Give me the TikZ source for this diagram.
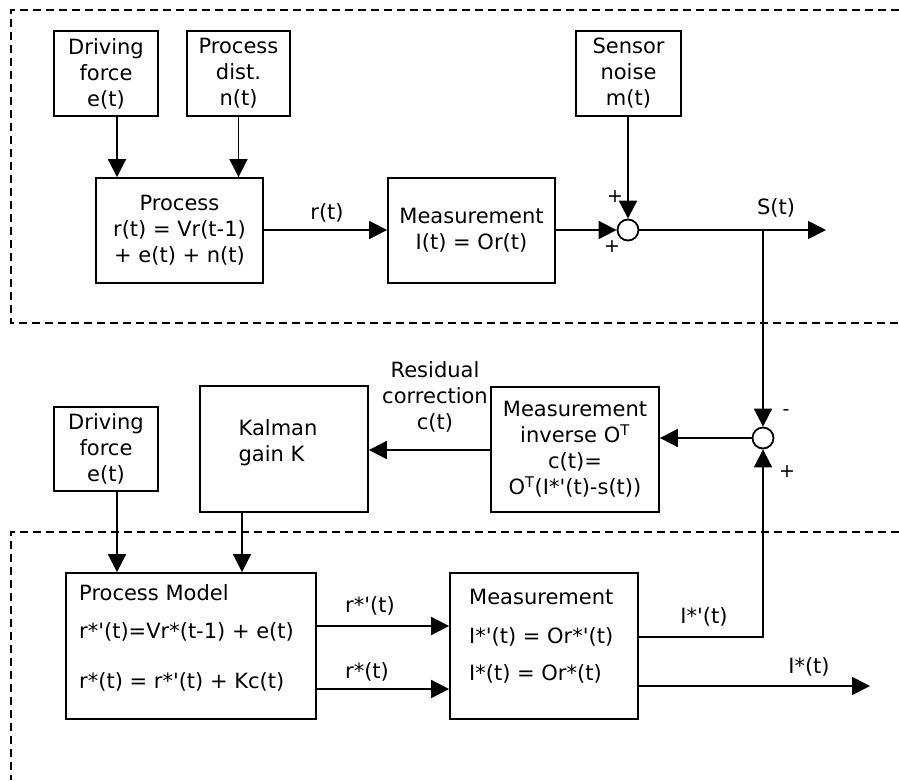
\documentclass[tikz,border=0pt]{standalone}
\usepackage{fontspec}
\newfontfamily\df{DejaVu Sans}
\usetikzlibrary{arrows.meta}
\begin{document}
\begin{tikzpicture}[x=1pt,y=-1pt,
  every node/.style={font=\df\fontsize{21}{26}\selectfont, inner sep=0pt},
  box/.style={draw, line width=1.8pt, align=center},
  sumc/.style={draw, circle, line width=1.8pt, minimum size=21pt},
  arr/.style={line width=1.8pt, -{Triangle[length=18pt,width=18pt]}},
  dashbox/.style={line width=1.3pt, dash pattern=on 8pt off 5pt},
  sign/.style={font=\df\fontsize{19}{20}\selectfont}]
\useasboundingbox (0,0) rectangle (899,780);
% dashed regions
\draw[dashbox] (899,10) -- (11,10) -- (11,323) -- (899,323);
\draw[dashbox] (899,532) -- (11,532) -- (11,780);
% top row
\node[box, minimum width=104pt, minimum height=85pt] (drv1) at (106,73.5) {Driving\\force\\e(t)};
\node[box, minimum width=103pt, minimum height=85pt] (dist) at (238.5,73.5) {Process\\dist.\\n(t)};
\node[box, minimum width=105pt, minimum height=85pt] (noise) at (628.5,73.5) {Sensor\\noise\\m(t)};
\node[box, minimum width=167pt, minimum height=105pt] (proc) at (179.5,230.5) {Process\\r(t) = Vr(t-1)\\+ e(t) + n(t)};
\node[box, minimum width=167pt, minimum height=105pt] (meas) at (471.5,230.5) {Measurement\\I(t) = Or(t)};
\node[sumc] (sum1) at (628,230) {};
\coordinate (sout) at (826,230);
\coordinate (xa) at (117,0);
% middle row
\node[box, minimum width=104pt, minimum height=84pt] (drv2) at (106,449) {Driving\\force\\e(t)};
\node[box, minimum width=168pt, minimum height=126pt] (kal) at (284,449) {};
\node[align=left] (kalt) at (278,443) {Kalman\\gain K};
\node[box, minimum width=168pt, minimum height=125pt] (inv) at (575,449.5) {Measurement\\inverse O\textsuperscript{T}\\c(t)=\\O\textsuperscript{T}(I*'(t)-s(t))};
\node[sumc] (sum2) at (763,438) {};
\node[align=center] (resid) at (435,397) {Residual\\correction\\c(t)};
\coordinate (xk) at (242,0);
\coordinate (yk) at (0,450);
% bottom row
\node[box, minimum width=250pt, minimum height=146pt] (pm) at (191,646) {};
\node[box, minimum width=188pt, minimum height=146pt] (m2) at (544,646) {};
\node[anchor=base west] (pmt1) at (79,600) {Process Model};
\node[anchor=base west] (pmt2) at (79,638) {r*'(t)=Vr*(t-1) + e(t)};
\node[anchor=base west] (pmt3) at (79,688) {r*(t) = r*'(t) + Kc(t)};
\node[anchor=base west] (m2t1) at (469,604) {Measurement};
\node[anchor=base west] (m2t2) at (469,643) {I*'(t) = Or*'(t)};
\node[anchor=base west] (m2t3) at (469,680) {I*(t) = Or*(t)};
\coordinate (ya) at (0,626);
\coordinate (yb) at (0,689);
\coordinate (yc) at (0,637);
\coordinate (yd) at (0,686);
\coordinate (iout) at (870,686);
% connectors top
\draw[arr] (xa |- drv1.south) -- (xa |- proc.north);
\draw[arr] (dist.south) -- (dist.south |- proc.north);
\draw[arr] (noise.south -| sum1) -- (sum1.north);
\draw[arr] (proc.east |- sum1) -- (meas.west |- sum1);
\draw[arr] (meas.east |- sum1) -- (sum1.west);
\draw[arr] (sum1.east) -- (sout);
\draw[arr] (sum1 -| sum2) -- (sum2.north);
% connectors middle
\draw[arr] (sum2.west) -- (sum2.west -| inv.east);
\draw[arr] (inv.west |- yk) -- (kal.east |- yk);
\draw[arr] (xa |- drv2.south) -- (xa |- pm.north);
\draw[arr] (xk |- kal.south) -- (xk |- pm.north);
% connectors bottom
\draw[arr] (pm.east |- ya) -- (m2.west |- ya);
\draw[arr] (pm.east |- yb) -- (m2.west |- yb);
\draw[arr] (m2.east |- yc) -| (sum2.south);
\draw[arr] (m2.east |- yd) -- (iout);
% labels
\node (lr) at (327,213) {r(t)};
\node (ls) at (776,208) {S(t)};
\node (lrp) at (370,606) {r*'(t)};
\node (lrs) at (367,672) {r*(t)};
\node (lip) at (704,617) {I*'(t)};
\node (lis) at (809,667) {I*(t)};
\node[sign] (p1) at (615,197) {+};
\node[sign] (p2) at (612,247) {+};
\node[sign] (m1) at (786,413) {-};
\node[sign] (p3) at (787,472) {+};
\end{tikzpicture}
\end{document}
